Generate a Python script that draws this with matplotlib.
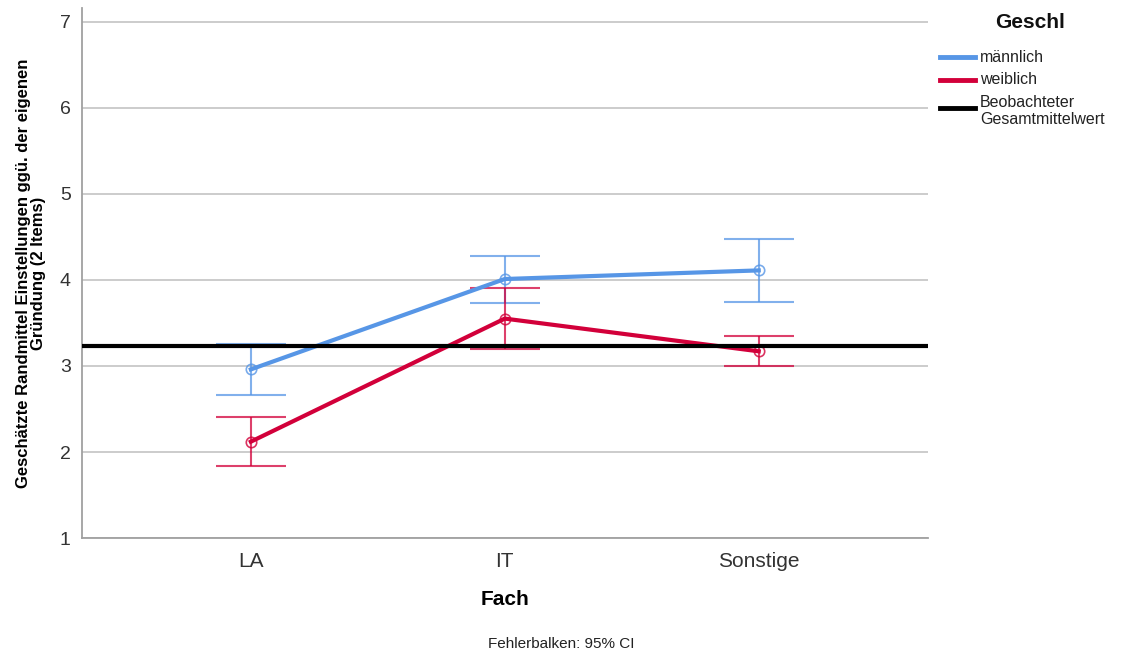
import matplotlib
matplotlib.use("Agg")
import matplotlib.pyplot as plt
from matplotlib.lines import Line2D

plt.rcParams['font.family'] = ['Liberation Sans', 'DejaVu Sans']

# Geschätzte Randmittel mit 95%-Konfidenzintervallen
faecher = ['LA', 'IT', 'Sonstige']
m_mittel = [2.96, 4.01, 4.11]
m_unten = [2.66, 3.73, 3.74]
m_oben = [3.26, 4.28, 4.48]
w_mittel = [2.12, 3.55, 3.17]
w_unten = [1.84, 3.20, 3.00]
w_oben = [2.41, 3.91, 3.35]
gesamtmittel = 3.23

blau = '#5796E6'
rot = '#D2003A'

W, H = 1123, 657
fig = plt.figure(figsize=(W / 100, H / 100), dpi=100)
ax = fig.add_axes([0.073, 0.181, 0.753, 0.807])

x = list(range(len(faecher)))

for mittel, unten, oben, farbe in [(m_mittel, m_unten, m_oben, blau),
                                   (w_mittel, w_unten, w_oben, rot)]:
    fehler = [[mi - u for mi, u in zip(mittel, unten)],
              [o - mi for mi, o in zip(mittel, oben)]]
    ax.errorbar(x, mittel, yerr=fehler, fmt='none', ecolor=farbe, alpha=0.75,
                elinewidth=1.5, capsize=25, capthick=1.5, zorder=2)
    ax.plot(x, mittel, color=farbe, lw=3, zorder=3)
    ax.plot(x, mittel, 'o', mfc='none', mec=farbe, ms=7.5, mew=1.2, alpha=0.8, zorder=4)

ax.axhline(gesamtmittel, color='black', lw=3, zorder=5)

ax.set_xlim(-0.665, 2.665)
ax.set_ylim(1, 7.16)
ax.set_xticks(x)
ax.set_xticklabels(faecher)
ax.set_yticks(range(1, 8))
ax.tick_params(axis='y', length=0, labelsize=14, colors='#333333', pad=8)
ax.tick_params(axis='x', length=0, labelsize=15, colors='#333333', pad=10)
ax.grid(axis='y', color='#C8C8C8', lw=1.3, zorder=0)
ax.set_axisbelow(True)
for s in ['top', 'right']:
    ax.spines[s].set_visible(False)
for s in ['left', 'bottom']:
    ax.spines[s].set_color('#A0A0A0')
    ax.spines[s].set_linewidth(1.3)

ax.set_xlabel('Fach', fontsize=15, fontweight='bold', labelpad=14)
ax.set_ylabel('Geschätzte Randmittel Einstellungen ggü. der eigenen\nGründung (2 Items)',
              fontsize=12, fontweight='bold', labelpad=10, linespacing=1.0)


def fx(px):
    return px / W


def fy(py):
    return 1 - py / H


fig.text(fx(561), fy(644), 'Fehlerbalken: 95% CI', ha='center', va='center',
         fontsize=11, color='#222222')

# Legende von Hand gesetzt
fig.text(fx(1030), fy(22), 'Geschl', ha='center', va='center',
         fontsize=15, fontweight='bold', color='#111111')
eintraege = [(blau, 'männlich', 57, 57), (rot, 'weiblich', 80, 80),
             ('black', 'Beobachteter\nGesamtmittelwert', 111, 108)]
for farbe, text, py, ylinie in eintraege:
    fig.add_artist(Line2D([fx(940), fx(975)], [fy(ylinie), fy(ylinie)],
                          color=farbe, lw=3.5, transform=fig.transFigure))
    fig.text(fx(980), fy(py), text, ha='left', va='center', fontsize=11.5,
             color='#222222', linespacing=1.1)

fig.savefig('out.png', dpi=100)
